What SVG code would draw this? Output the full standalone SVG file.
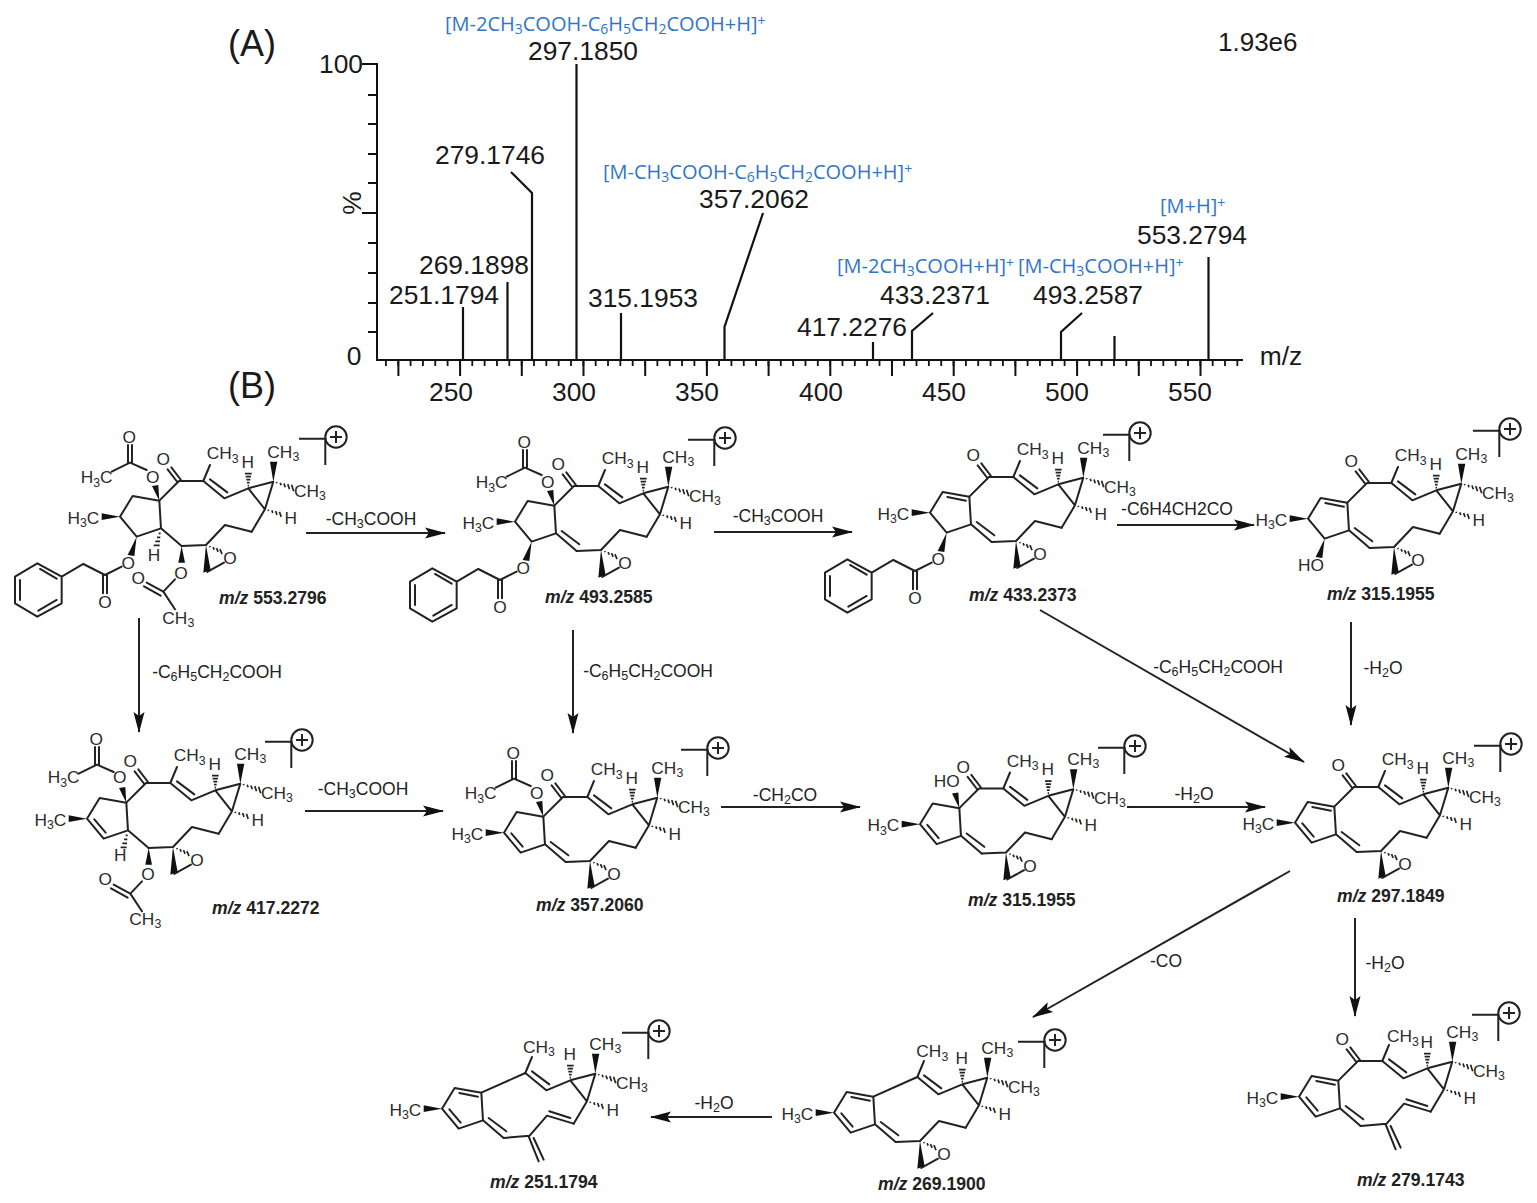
<svg xmlns="http://www.w3.org/2000/svg" xmlns:xlink="http://www.w3.org/1999/xlink" width="1537" height="1203" viewBox="0 0 1537 1203">
<style>
text{font-family:"Liberation Sans",Arial,sans-serif;fill:#1a1a1a}
.b{fill:none;stroke:#222;stroke-width:6;stroke-linejoin:round;stroke-linecap:round}
.h{fill:none;stroke:#222;stroke-width:5}
.w{fill:#111;stroke:none}
.a{font-size:52px;text-anchor:middle;fill:#2c2c2c}
.s{font-size:37px}
.p{font-size:26.4px;text-anchor:middle}
.t{font-size:17.5px;text-anchor:middle;fill:#222}
.u{font-size:12.5px}
.q{font-size:14px}
.c{font-size:20px;font-family:"Open Sans","Noto Sans",sans-serif;fill:#2f76c9}
.l{font-size:17.6px;font-weight:bold;fill:#222}
.l tspan{font-style:italic}
.ax{fill:none;stroke:#111;stroke-width:2}
.pk{fill:none;stroke:#111;stroke-width:2.2}
.ar{fill:none;stroke:#222;stroke-width:2;marker-end:url(#ah)}
.tc{fill:none;stroke:#222;stroke-width:2}
</style>
<defs>
<marker id="ah" markerUnits="userSpaceOnUse" markerWidth="22" markerHeight="14" viewBox="0 0 21 14" refX="20" refY="7" orient="auto"><path d="M0 1.5L21 7L0 12.5L4 7Z" fill="#111"/></marker>
<g id="core"><path class="b" d="M610 183L673 235L745 205L820 185L795 268L745 205M795 268L755 335M630 178L682 217M610 183L630 135"/><path class="h" d="M743 197H747M741 188H749M739 179H751M737 170H753M735 161H755M829.4 186L830.6 190M840.7 188.2L843.3 195.8M852 190.3L856 201.7M863.4 192.4L868.6 207.6M874.8 194.5L881.2 213.5M804.4 269L805.6 273M815.7 271.2L818.3 278.8M827 273.3L831 284.7M838.4 275.4L843.6 290.6"/><polygon class="w" points="820,185 810,125 832,125"/></g>
<path id="kt" class="b" d="M478 242L537 183L610 183M532 186L503 148M543 180L514 142"/>
<path id="nk" class="b" d="M478 242L610 183"/>
<g id="ep"><path class="b" d="M755 335L675 315L618 375L545 378M622 456L672 428"/><polygon class="w" points="618,375 610,458 632,450"/><path class="h" d="M629.2 378.2L630.8 381.8M639.4 381.3L642.6 388.7M649.6 384.5L654.4 395.5M659.8 387.6L666.2 402.4"/></g>
<path id="tr" class="b" d="M755 335L675 311L623 371L545 378M682 298L745 318M620 373L650 448M635 378L665 443"/>
<path id="r5" class="b" d="M483 325L478 242L398 228L360 290L410 350L483 325L545 378"/>
<path id="da" class="b" d="M412 243L468 254"/>
<path id="db" class="b" d="M382 292L416 332"/>
<path id="dj" class="b" d="M500 318L553 358"/>
<polygon id="mw" class="w" points="360,290 305,280 305,300"/>
<polygon id="wt" class="w" points="478,242 456,198 475,195"/>
<polygon id="wo" class="w" points="410,350 383,405 403,408"/>
<path id="act" class="b" d="M440 150L390 128L335 155M384 128V75M396 128V75"/>
<path id="phac" class="b" d="M365 440L315 465L250 432L185 470L112 430L45 470V550L112 590L185 550V470M120 447L170 476M60 480V540M115 572L170 540M309 465V520M321 465V520"/>
<g id="acb"><polygon class="w" points="545,378 535,428 555,428"/><path class="b" d="M525 478L490 515L525 568M490 515L440 488M482 527L432 499"/></g>
<path id="hj" class="h" d="M476 340H482M471 352H481M466 364H480M461 376H479"/>
<g id="tp"><circle class="tc" r="10.7"/><path class="tc" d="M-6 0H6M0 -6V6M-37 1.7H-10.7V28"/></g>
</defs>

<g id="spectrum">
<path class="ax" d="M362 64H377V360H1243M377 95H368M377 124H368M377 154H368M377 183H368M377 213H362M377 243H368M377 273H368M377 303H368M377 332H368"/>
<line x1="385" y1="363" x2="1243" y2="363" stroke="#111" stroke-width="6" stroke-dasharray="1.8 10.54"/>
<line x1="397.4" y1="368" x2="1243" y2="368" stroke="#111" stroke-width="16" stroke-dasharray="2 59.7"/>
<path class="pk" d="M463 360V307M507.5 360V282M532 360V193L511 172M576.5 360V64M621 360V313M724.5 360V327L763 213M873 360V342M912 360V331L933 313M1061 360V332L1082 313M1114.5 360V336M1208.5 360V257"/>
<text x="228" y="56" font-size="36">(A)</text>
<text x="228" y="398" font-size="36">(B)</text>
<text x="1218" y="51" font-size="26">1.93e6</text>
<text class="p" x="341" y="73">100</text>
<text class="p" x="354" y="365">0</text>
<text class="p" transform="translate(361,203) rotate(-90)">%</text>
<text class="p" x="451" y="401">250</text>
<text class="p" x="574" y="401">300</text>
<text class="p" x="697" y="401">350</text>
<text class="p" x="821" y="401">400</text>
<text class="p" x="944" y="401">450</text>
<text class="p" x="1067" y="401">500</text>
<text class="p" x="1190" y="401">550</text>
<text class="p" x="1281" y="365">m/z</text>
<text class="p" x="583" y="60">297.1850</text>
<text class="p" x="490" y="164">279.1746</text>
<text class="p" x="474" y="274">269.1898</text>
<text class="p" x="444" y="304">251.1794</text>
<text class="p" x="643" y="307">315.1953</text>
<text class="p" x="754" y="208">357.2062</text>
<text class="p" x="852" y="336">417.2276</text>
<text class="p" x="935" y="304">433.2371</text>
<text class="p" x="1088" y="304">493.2587</text>
<text class="p" x="1192" y="244">553.2794</text>
<text class="c" x="445" y="31">[M-2CH<tspan class="q" dy="3">3</tspan><tspan dy="-3">COOH-C</tspan><tspan class="q" dy="3">6</tspan><tspan dy="-3">H</tspan><tspan class="q" dy="3">5</tspan><tspan dy="-3">CH</tspan><tspan class="q" dy="3">2</tspan><tspan dy="-3">COOH+H]</tspan><tspan class="q" dy="-5">+</tspan></text>
<text class="c" x="603" y="179">[M-CH<tspan class="q" dy="3">3</tspan><tspan dy="-3">COOH-C</tspan><tspan class="q" dy="3">6</tspan><tspan dy="-3">H</tspan><tspan class="q" dy="3">5</tspan><tspan dy="-3">CH</tspan><tspan class="q" dy="3">2</tspan><tspan dy="-3">COOH+H]</tspan><tspan class="q" dy="-5">+</tspan></text>
<text class="c" x="837" y="273">[M-2CH<tspan class="q" dy="3">3</tspan><tspan dy="-3">COOH+H]</tspan><tspan class="q" dy="-5">+</tspan></text>
<text class="c" x="1018" y="273">[M-CH<tspan class="q" dy="3">3</tspan><tspan dy="-3">COOH+H]</tspan><tspan class="q" dy="-5">+</tspan></text>
<text class="c" x="1160" y="213">[M+H]<tspan class="q" dy="-5">+</tspan></text>
</g>

<g id="connectors">
<path class="ar" d="M306 533H445"/>
<path class="ar" d="M714 532H852"/>
<path class="ar" d="M1117 525H1254"/>
<path class="ar" d="M139 618V732"/>
<path class="ar" d="M573 630V733"/>
<path class="ar" d="M1040 610L1304 762"/>
<path class="ar" d="M1351 622V725"/>
<path class="ar" d="M305 811H443"/>
<path class="ar" d="M721 807H860"/>
<path class="ar" d="M1127 807H1265"/>
<path class="ar" d="M1290 871L1033 1017"/>
<path class="ar" d="M1355 918V1016"/>
<path class="ar" d="M772 1117H651"/>
<text class="t" x="371" y="525">-CH<tspan class="u" dy="3">3</tspan><tspan dy="-3">COOH</tspan></text>
<text class="t" x="778" y="522">-CH<tspan class="u" dy="3">3</tspan><tspan dy="-3">COOH</tspan></text>
<text class="t" x="1177" y="515">-C6H4CH2CO</text>
<text class="t" x="217" y="678">-C<tspan class="u" dy="3">6</tspan><tspan dy="-3">H</tspan><tspan class="u" dy="3">5</tspan><tspan dy="-3">CH</tspan><tspan class="u" dy="3">2</tspan><tspan dy="-3">COOH</tspan></text>
<text class="t" x="648" y="677">-C<tspan class="u" dy="3">6</tspan><tspan dy="-3">H</tspan><tspan class="u" dy="3">5</tspan><tspan dy="-3">CH</tspan><tspan class="u" dy="3">2</tspan><tspan dy="-3">COOH</tspan></text>
<text class="t" x="1218" y="673">-C<tspan class="u" dy="3">6</tspan><tspan dy="-3">H</tspan><tspan class="u" dy="3">5</tspan><tspan dy="-3">CH</tspan><tspan class="u" dy="3">2</tspan><tspan dy="-3">COOH</tspan></text>
<text class="t" x="1383" y="674">-H<tspan class="u" dy="3">2</tspan><tspan dy="-3">O</tspan></text>
<text class="t" x="363" y="795">-CH<tspan class="u" dy="3">3</tspan><tspan dy="-3">COOH</tspan></text>
<text class="t" x="785" y="801">-CH<tspan class="u" dy="3">2</tspan><tspan dy="-3">CO</tspan></text>
<text class="t" x="1194" y="800">-H<tspan class="u" dy="3">2</tspan><tspan dy="-3">O</tspan></text>
<text class="t" x="1166" y="967">-CO</text>
<text class="t" x="1385" y="969">-H<tspan class="u" dy="3">2</tspan><tspan dy="-3">O</tspan></text>
<text class="t" x="714" y="1109">-H<tspan class="u" dy="3">2</tspan><tspan dy="-3">O</tspan></text>
</g>

<g id="m553">
<g transform="translate(0,420) scale(.3333)">
<use href="#core"/><use href="#kt"/><use href="#ep"/><use href="#r5"/><use href="#mw"/><use href="#wt"/><use href="#act"/><use href="#wo"/><use href="#phac"/><use href="#acb"/><use href="#hj"/>
<text class="a" x="668" y="118">CH<tspan class="s" dy="10">3</tspan></text><text class="a" x="743" y="143">H</text><text class="a" x="850" y="113">CH<tspan class="s" dy="10">3</tspan></text><text class="a" x="930" y="230">CH<tspan class="s" dy="10">3</tspan></text><text class="a" x="872" y="311">H</text><text class="a" x="690" y="433">O</text><text class="a" x="490" y="136">O</text>
<text class="a" x="250" y="312">H<tspan class="s" dy="10">3</tspan><tspan dy="-10">C</tspan></text><text class="a" x="458" y="188">O</text><text class="a" x="388" y="68">O</text><text class="a" x="290" y="190">H<tspan class="s" dy="10">3</tspan><tspan dy="-10">C</tspan></text><text class="a" x="385" y="448">O</text><text class="a" x="315" y="565">O</text><text class="a" x="543" y="476">O</text><text class="a" x="415" y="493">O</text><text class="a" x="535" y="612">CH<tspan class="s" dy="10">3</tspan></text><text class="a" x="462" y="423">H</text>
</g>
<use href="#tp" x="336" y="437"/>
<text class="l" x="219" y="604"><tspan>m/z</tspan> 553.2796</text>
</g>

<g id="m493">
<g transform="translate(395,425) scale(.3333)">
<use href="#core"/><use href="#kt"/><use href="#ep"/><use href="#r5"/><use href="#dj"/><use href="#mw"/><use href="#wt"/><use href="#act"/><use href="#wo"/><use href="#phac"/>
<text class="a" x="668" y="118">CH<tspan class="s" dy="10">3</tspan></text><text class="a" x="743" y="143">H</text><text class="a" x="850" y="113">CH<tspan class="s" dy="10">3</tspan></text><text class="a" x="930" y="230">CH<tspan class="s" dy="10">3</tspan></text><text class="a" x="872" y="311">H</text><text class="a" x="690" y="433">O</text><text class="a" x="490" y="136">O</text>
<text class="a" x="250" y="312">H<tspan class="s" dy="10">3</tspan><tspan dy="-10">C</tspan></text><text class="a" x="458" y="188">O</text><text class="a" x="388" y="68">O</text><text class="a" x="290" y="190">H<tspan class="s" dy="10">3</tspan><tspan dy="-10">C</tspan></text><text class="a" x="385" y="448">O</text><text class="a" x="315" y="565">O</text>
</g>
<use href="#tp" x="725" y="438"/>
<text class="l" x="545" y="603"><tspan>m/z</tspan> 493.2585</text>
</g>

<g id="m433">
<g transform="translate(810,416) scale(.3333)">
<use href="#core"/><use href="#kt"/><use href="#ep"/><use href="#r5"/><use href="#da"/><use href="#dj"/><use href="#mw"/><use href="#wo"/><use href="#phac"/>
<text class="a" x="668" y="118">CH<tspan class="s" dy="10">3</tspan></text><text class="a" x="743" y="143">H</text><text class="a" x="850" y="113">CH<tspan class="s" dy="10">3</tspan></text><text class="a" x="930" y="230">CH<tspan class="s" dy="10">3</tspan></text><text class="a" x="872" y="311">H</text><text class="a" x="690" y="433">O</text><text class="a" x="490" y="136">O</text>
<text class="a" x="250" y="312">H<tspan class="s" dy="10">3</tspan><tspan dy="-10">C</tspan></text><text class="a" x="385" y="448">O</text><text class="a" x="315" y="565">O</text>
</g>
<use href="#tp" x="1140" y="433"/>
<text class="l" x="969" y="601"><tspan>m/z</tspan> 433.2373</text>
</g>

<g id="m315a">
<g transform="translate(1188,422) scale(.3333)">
<use href="#core"/><use href="#kt"/><use href="#ep"/><use href="#r5"/><use href="#da"/><use href="#dj"/><use href="#mw"/><use href="#wo"/>
<text class="a" x="668" y="118">CH<tspan class="s" dy="10">3</tspan></text><text class="a" x="743" y="143">H</text><text class="a" x="850" y="113">CH<tspan class="s" dy="10">3</tspan></text><text class="a" x="930" y="230">CH<tspan class="s" dy="10">3</tspan></text><text class="a" x="872" y="311">H</text><text class="a" x="690" y="433">O</text><text class="a" x="490" y="136">O</text>
<text class="a" x="250" y="312">H<tspan class="s" dy="10">3</tspan><tspan dy="-10">C</tspan></text><text class="a" x="369" y="446">HO</text>
</g>
<use href="#tp" x="1510" y="429"/>
<text class="l" x="1327" y="600"><tspan>m/z</tspan> 315.1955</text>
</g>

<g id="m417">
<g transform="translate(-33,722) scale(.3333)">
<use href="#core"/><use href="#kt"/><use href="#ep"/><use href="#r5"/><use href="#db"/><use href="#mw"/><use href="#wt"/><use href="#act"/><use href="#acb"/><use href="#hj"/>
<text class="a" x="668" y="118">CH<tspan class="s" dy="10">3</tspan></text><text class="a" x="743" y="143">H</text><text class="a" x="850" y="113">CH<tspan class="s" dy="10">3</tspan></text><text class="a" x="930" y="230">CH<tspan class="s" dy="10">3</tspan></text><text class="a" x="872" y="311">H</text><text class="a" x="690" y="433">O</text><text class="a" x="490" y="136">O</text>
<text class="a" x="250" y="312">H<tspan class="s" dy="10">3</tspan><tspan dy="-10">C</tspan></text><text class="a" x="458" y="184">O</text><text class="a" x="388" y="68">O</text><text class="a" x="290" y="184">H<tspan class="s" dy="10">3</tspan><tspan dy="-10">C</tspan></text><text class="a" x="543" y="474">O</text><text class="a" x="415" y="490">O</text><text class="a" x="535" y="608">CH<tspan class="s" dy="10">3</tspan></text><text class="a" x="460" y="418">H</text>
</g>
<use href="#tp" x="302" y="740"/>
<text class="l" x="212" y="914"><tspan>m/z</tspan> 417.2272</text>
</g>

<g id="m357">
<g transform="translate(384,736) scale(.3333)">
<use href="#core"/><use href="#kt"/><use href="#ep"/><use href="#r5"/><use href="#db"/><use href="#dj"/><use href="#mw"/><use href="#wt"/><use href="#act"/>
<text class="a" x="668" y="118">CH<tspan class="s" dy="10">3</tspan></text><text class="a" x="743" y="143">H</text><text class="a" x="850" y="113">CH<tspan class="s" dy="10">3</tspan></text><text class="a" x="930" y="230">CH<tspan class="s" dy="10">3</tspan></text><text class="a" x="872" y="311">H</text><text class="a" x="690" y="433">O</text><text class="a" x="490" y="136">O</text>
<text class="a" x="250" y="312">H<tspan class="s" dy="10">3</tspan><tspan dy="-10">C</tspan></text><text class="a" x="458" y="188">O</text><text class="a" x="388" y="68">O</text><text class="a" x="290" y="190">H<tspan class="s" dy="10">3</tspan><tspan dy="-10">C</tspan></text>
</g>
<use href="#tp" x="718" y="748"/>
<text class="l" x="536" y="911"><tspan>m/z</tspan> 357.2060</text>
</g>

<g id="m315b">
<g transform="translate(800,727.5) scale(.3333)">
<use href="#core"/><use href="#kt"/><use href="#ep"/><use href="#r5"/><use href="#db"/><use href="#dj"/><use href="#mw"/><use href="#wt"/>
<text class="a" x="668" y="118">CH<tspan class="s" dy="10">3</tspan></text><text class="a" x="743" y="143">H</text><text class="a" x="850" y="113">CH<tspan class="s" dy="10">3</tspan></text><text class="a" x="930" y="230">CH<tspan class="s" dy="10">3</tspan></text><text class="a" x="872" y="311">H</text><text class="a" x="690" y="433">O</text><text class="a" x="490" y="136">O</text>
<text class="a" x="250" y="312">H<tspan class="s" dy="10">3</tspan><tspan dy="-10">C</tspan></text><text class="a" x="440" y="180">HO</text>
</g>
<use href="#tp" x="1135" y="746"/>
<text class="l" x="968" y="906"><tspan>m/z</tspan> 315.1955</text>
</g>

<g id="m297">
<g transform="translate(1175,726) scale(.3333)">
<use href="#core"/><use href="#kt"/><use href="#ep"/><use href="#r5"/><use href="#da"/><use href="#db"/><use href="#dj"/><use href="#mw"/>
<text class="a" x="668" y="118">CH<tspan class="s" dy="10">3</tspan></text><text class="a" x="743" y="143">H</text><text class="a" x="850" y="113">CH<tspan class="s" dy="10">3</tspan></text><text class="a" x="930" y="230">CH<tspan class="s" dy="10">3</tspan></text><text class="a" x="872" y="311">H</text><text class="a" x="690" y="433">O</text><text class="a" x="490" y="136">O</text>
<text class="a" x="250" y="312">H<tspan class="s" dy="10">3</tspan><tspan dy="-10">C</tspan></text>
</g>
<use href="#tp" x="1511" y="744"/>
<text class="l" x="1337" y="902"><tspan>m/z</tspan> 297.1849</text>
</g>

<g id="m269">
<g transform="translate(714,1016) scale(.3333)">
<use href="#core"/><use href="#nk"/><use href="#ep"/><use href="#r5"/><use href="#da"/><use href="#db"/><use href="#dj"/><use href="#mw"/>
<text class="a" x="655" y="124">CH<tspan class="s" dy="10">3</tspan></text><text class="a" x="743" y="143">H</text><text class="a" x="850" y="113">CH<tspan class="s" dy="10">3</tspan></text><text class="a" x="930" y="230">CH<tspan class="s" dy="10">3</tspan></text><text class="a" x="872" y="311">H</text><text class="a" x="690" y="433">O</text>
<text class="a" x="250" y="312">H<tspan class="s" dy="10">3</tspan><tspan dy="-10">C</tspan></text>
</g>
<use href="#tp" x="1055" y="1040"/>
<text class="l" x="878" y="1190"><tspan>m/z</tspan> 269.1900</text>
</g>

<g id="m279">
<g transform="translate(1179,1000) scale(.3333)">
<use href="#core"/><use href="#kt"/><use href="#tr"/><use href="#r5"/><use href="#da"/><use href="#db"/><use href="#dj"/><use href="#mw"/>
<text class="a" x="672" y="127">CH<tspan class="s" dy="10">3</tspan></text><text class="a" x="743" y="143">H</text><text class="a" x="850" y="113">CH<tspan class="s" dy="10">3</tspan></text><text class="a" x="930" y="230">CH<tspan class="s" dy="10">3</tspan></text><text class="a" x="872" y="311">H</text><text class="a" x="490" y="136">O</text>
<text class="a" x="250" y="312">H<tspan class="s" dy="10">3</tspan><tspan dy="-10">C</tspan></text>
</g>
<use href="#tp" x="1509" y="1013"/>
<text class="l" x="1357" y="1186"><tspan>m/z</tspan> 279.1743</text>
</g>

<g id="m251">
<g transform="translate(322,1012) scale(.3333)">
<use href="#core"/><use href="#nk"/><use href="#tr"/><use href="#r5"/><use href="#da"/><use href="#db"/><use href="#dj"/><use href="#mw"/>
<text class="a" x="651" y="123">CH<tspan class="s" dy="10">3</tspan></text><text class="a" x="743" y="143">H</text><text class="a" x="850" y="113">CH<tspan class="s" dy="10">3</tspan></text><text class="a" x="930" y="230">CH<tspan class="s" dy="10">3</tspan></text><text class="a" x="872" y="311">H</text>
<text class="a" x="250" y="312">H<tspan class="s" dy="10">3</tspan><tspan dy="-10">C</tspan></text>
</g>
<use href="#tp" x="659" y="1031"/>
<text class="l" x="490" y="1188"><tspan>m/z</tspan> 251.1794</text>
</g>
</svg>
